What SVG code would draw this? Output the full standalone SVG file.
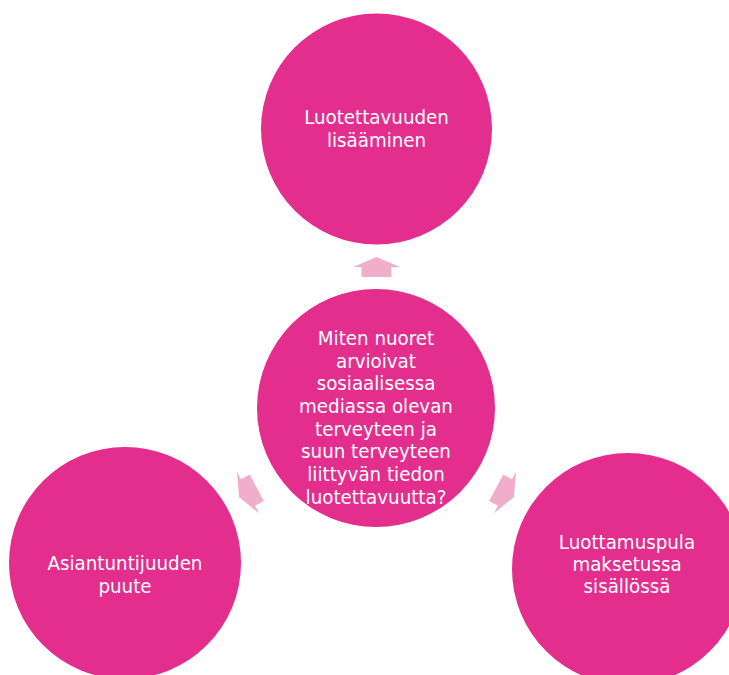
<svg xmlns="http://www.w3.org/2000/svg" width="729" height="675" viewBox="0 0 729 675">
<defs>
<style>
.node{fill:#E32E8E}
.arrow{fill:#F1AECB}
.lbl{font-family:"DejaVu Sans Condensed","DejaVu Sans","Liberation Sans",sans-serif;font-stretch:condensed;font-size:20.3px;fill:#FFFFFF;text-anchor:middle}
</style>
<polygon id="arr" points="0,-10 23.5,0 15,0 15,10 -15,10 -15,0 -23.5,0"/>
</defs>
<rect width="729" height="675" fill="#FFFFFF"/>
<g id="connectors" class="arrow">
<use href="#arr" transform="translate(376.5,267)"/>
<use href="#arr" transform="translate(248,492.5) rotate(-118)"/>
<use href="#arr" transform="translate(505,492.5) rotate(118)"/>
</g>
<g id="top">
<circle class="node" cx="376.5" cy="129" r="115.5"/>
<text class="lbl" x="376.5" y="124">Luotettavuuden</text>
<text class="lbl" x="376.5" y="147">lisääminen</text>
</g>
<g id="center">
<circle class="node" cx="376" cy="408" r="119"/>
<text class="lbl" x="376" y="345">Miten nuoret</text>
<text class="lbl" x="376" y="367.7">arvioivat</text>
<text class="lbl" x="376" y="390.4">sosiaalisessa</text>
<text class="lbl" x="376" y="413">mediassa olevan</text>
<text class="lbl" x="376" y="435.7">terveyteen ja</text>
<text class="lbl" x="376" y="458.4">suun terveyteen</text>
<text class="lbl" x="376" y="481">liittyvän tiedon</text>
<text class="lbl" x="376" y="503.7">luotettavuutta?</text>
</g>
<g id="left">
<circle class="node" cx="125" cy="563" r="116"/>
<text class="lbl" x="125" y="570">Asiantuntijuuden</text>
<text class="lbl" x="125" y="593">puute</text>
</g>
<g id="right">
<circle class="node" cx="628" cy="569" r="116"/>
<text class="lbl" x="627" y="549">Luottamuspula</text>
<text class="lbl" x="627" y="571">maksetussa</text>
<text class="lbl" x="627" y="593">sisällössä</text>
</g>
</svg>
